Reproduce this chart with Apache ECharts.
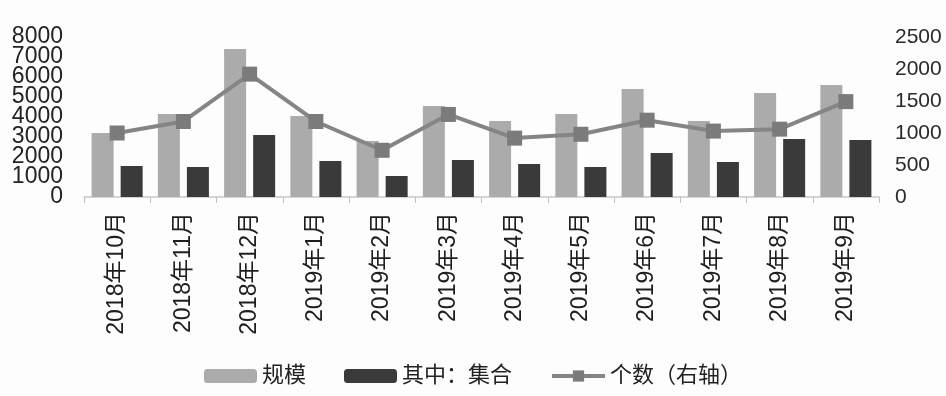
<!DOCTYPE html>
<html>
<head>
<meta charset="utf-8">
<script src="https://cdn.jsdelivr.net/npm/echarts@6/dist/echarts.min.js"></script>
<style>
  html, body { margin: 0; padding: 0; background: #fdfdfd; }
  #chart { width: 946px; height: 396px; }
</style>
</head>
<body>
<div id="chart"></div>
<script>
// Monthly categories
const months = ['2018年10月', '2018年11月', '2018年12月', '2019年1月', '2019年2月', '2019年3月',
  '2019年4月', '2019年5月', '2019年6月', '2019年7月', '2019年8月', '2019年9月'];
// 规模 (left axis)
const scaleValues = [3200, 4150, 7400, 4050, 2800, 4550, 3800, 4150, 5400, 3800, 5200, 5600];
// 其中：集合 (left axis)
const collectiveValues = [1550, 1500, 3100, 1800, 1050, 1850, 1650, 1500, 2200, 1750, 2900, 2850];
// 个数 (right axis)
const countValues = [1000, 1180, 1920, 1180, 730, 1290, 920, 980, 1200, 1030, 1060, 1490];

const FONT = '"Liberation Sans", "Noto Sans CJK SC", sans-serif';

// The left scale packs its labels tightly; it is drawn as two coincident axes
// (even thousands and odd thousands) so none of the labels get dropped.
const leftLabel = {
  fontSize: 23, color: '#222', margin: 21, fontFamily: FONT,
  showMinLabel: true, showMaxLabel: true
};

const chart = echarts.init(document.getElementById('chart'), null, { renderer: 'canvas' });
chart.setOption({
  backgroundColor: '#fdfdfd',
  animation: false,
  textStyle: { fontFamily: FONT },
  grid: { left: 84, right: 67, top: 37, height: 160 },
  legend: {
    bottom: 4,
    left: 'center',
    itemWidth: 53,
    itemHeight: 14,
    itemGap: 38,
    textStyle: { fontSize: 22, color: '#222', fontFamily: FONT },
    data: [
      '规模',
      '其中：集合',
      { name: '个数（右轴）', lineStyle: { width: 4, color: '#858585' } }
    ]
  },
  xAxis: {
    type: 'category',
    data: months,
    axisLine: { lineStyle: { color: '#c8c8c8', width: 1.5 } },
    axisTick: { show: true, length: 6, lineStyle: { color: '#c0c0c0' } },
    axisLabel: { rotate: 90, fontSize: 23, color: '#1e1e1e', margin: 15, fontFamily: FONT }
  },
  yAxis: [
    {
      type: 'value', position: 'left', min: 0, max: 8000, interval: 2000,
      splitLine: { show: false },
      axisLine: { show: false }, axisTick: { show: false },
      axisLabel: Object.assign({}, leftLabel, { formatter: v => String(v) })
    },
    {
      type: 'value', position: 'left', offset: 0, min: 0, max: 8000, interval: 1000,
      splitLine: { show: false },
      axisLine: { show: false }, axisTick: { show: false },
      axisLabel: Object.assign({}, leftLabel, {
        formatter: v => ((v / 1000) % 2 === 1 ? String(v) : '')
      })
    },
    {
      type: 'value', position: 'right', min: 0, max: 2500, interval: 500,
      splitLine: { show: false },
      axisLine: { show: false }, axisTick: { show: false },
      axisLabel: {
        fontSize: 21, color: '#2a2a2a', margin: 16, fontFamily: FONT,
        formatter: v => String(v), showMinLabel: true, showMaxLabel: true
      }
    }
  ],
  series: [
    {
      name: '规模', type: 'bar', yAxisIndex: 0,
      data: scaleValues, barWidth: 22, barGap: '32%',
      itemStyle: { color: '#ababab' }
    },
    {
      name: '其中：集合', type: 'bar', yAxisIndex: 0,
      data: collectiveValues, barWidth: 22,
      itemStyle: { color: '#3a3a3a' }
    },
    {
      name: '个数（右轴）', type: 'line', yAxisIndex: 2,
      data: countValues,
      symbol: 'rect', symbolSize: 15,
      itemStyle: { color: '#7b7b7b' },
      lineStyle: { color: '#858585', width: 4 }
    }
  ]
});
</script>
</body>
</html>
